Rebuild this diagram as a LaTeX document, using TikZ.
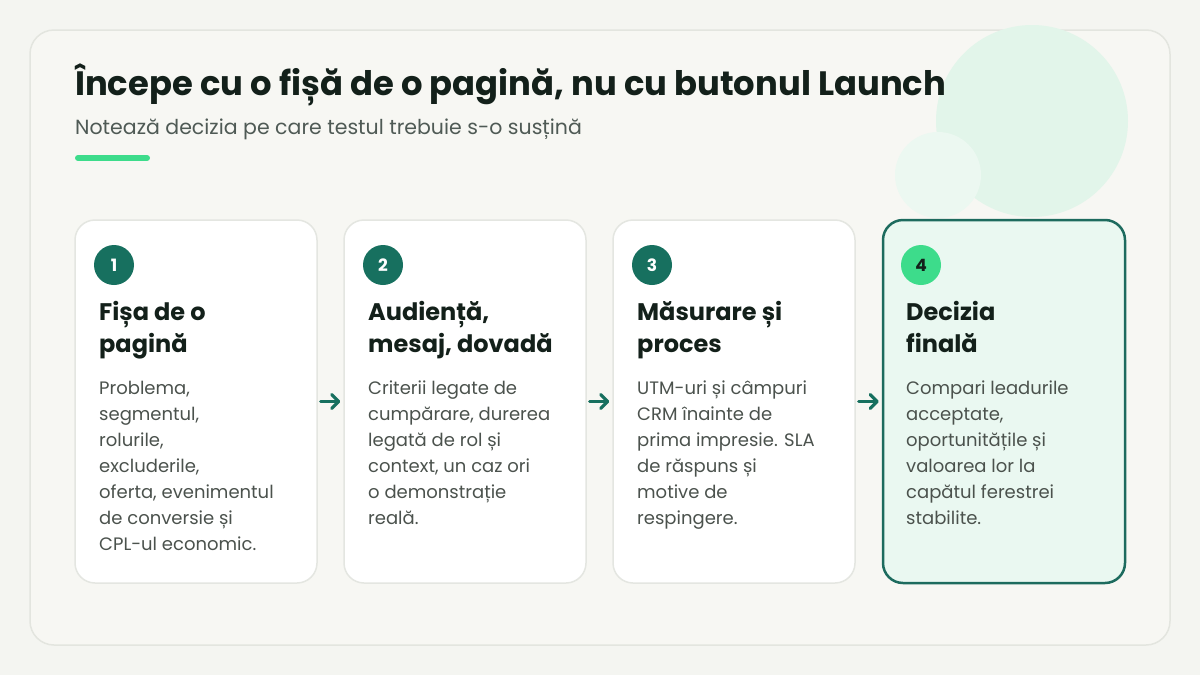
\documentclass[tikz,border=0pt]{standalone}
\usepackage{fontspec}
\setmainfont{Poppins}
\usetikzlibrary{arrows.meta}

\definecolor{pagebg}{HTML}{F4F5F1}
\definecolor{panelbg}{HTML}{F7F7F3}
\definecolor{panelline}{HTML}{E3E5DF}
\definecolor{cardline}{HTML}{E4E6E1}
\definecolor{blobbig}{HTML}{E2F5EA}
\definecolor{blobsmall}{HTML}{ECF8F1}
\definecolor{teal}{HTML}{17705F}
\definecolor{darkteal}{HTML}{1D6B5E}
\definecolor{mint}{HTML}{3DDC8B}
\definecolor{lastfill}{HTML}{EAF8F1}
\definecolor{titleink}{HTML}{13201A}
\definecolor{subink}{HTML}{4F5A55}
\definecolor{bodyink}{HTML}{4B524D}

\tikzset{
  card/.style={draw=cardline, line width=1.5pt, fill=white, rounded corners=20pt,
    minimum width=242pt, minimum height=363pt},
  lastcard/.style={card, draw=darkteal, line width=2.5pt, fill=lastfill},
  badge/.style={circle, fill=teal, text=white, minimum size=40pt, inner sep=0pt,
    font=\fontsize{17}{17}\selectfont\bfseries},
  lastbadge/.style={badge, fill=mint, text=titleink},
  % \strut keeps the first baseline 0.7 baselineskip below the top
  head/.style={anchor=north west, inner sep=0pt, align=left, text=titleink,
    font=\fontsize{24}{32}\selectfont\bfseries, execute at begin node=\strut},
  body/.style={anchor=north west, inner sep=0pt, align=left, text=bodyink,
    font=\fontsize{18}{26}\selectfont, execute at begin node=\strut},
  flow/.style={draw=teal, line width=3.2pt, line cap=round,
    -{Straight Barb[length=7pt, width=14pt, line cap=round, line join=round]},
    shorten <=3pt, shorten >=3pt}
}

\begin{document}
\begin{tikzpicture}[x=1pt,y=-1pt]
\useasboundingbox[fill=pagebg] (0,0) rectangle (1200,675);

% panel and background blobs
\draw[draw=panelline, line width=1.5pt, fill=panelbg, rounded corners=24pt] (30,30) rectangle (1170,645);
\fill[blobbig] (1032,121) circle (96);
\fill[blobsmall] (938,175) circle (43);

% title block
\node[anchor=base west, inner sep=0pt, text=titleink, font=\fontsize{33.8}{34}\selectfont\bfseries]
  (title) at (75,95) {Începe cu o fișă de o pagină, nu cu butonul Launch};
\node[anchor=base west, inner sep=0pt, text=subink, font=\fontsize{20.5}{21}\selectfont]
  (subtitle) at (75,134) {Notează decizia pe care testul trebuie s-o susțină};
\draw[mint, line width=6pt, line cap=round] (78,158) -- (147,158);

% cards (top of text = baseline - 0.7 baselineskip)
\foreach \i/\x/\h/\b in {
  1/75/{Fișa de o\\pagină}/{Problema,\\segmentul,\\rolurile,\\excluderile,\\oferta, evenimentul\\de conversie și\\CPL-ul economic.},
  2/344/{Audiență,\\mesaj, dovadă}/{Criterii legate de\\cumpărare, durerea\\legată de rol și\\context, un caz ori\\o demonstrație\\reală.},
  3/613/{Măsurare și\\proces}/{UTM-uri și câmpuri\\CRM înainte de\\prima impresie. SLA\\de răspuns și\\motive de\\respingere.}} {
  \node[card] (card\i) at (\x+121,401.5) {};
  \node[badge] (num\i) at (\x+39,265) {\i};
  \node[head] (head\i) at (\x+24,323-22.4) {\h};
  \node[body] (body\i) at (\x+24,399-18.2) {\b};
}
\node[lastcard] (card4) at (882+122,401.5) {};
\node[lastbadge] (num4) at (882+39,265) {4};
\node[head] (head4) at (882+24,323-22.4) {Decizia\\finală};
\node[body] (body4) at (882+24,399-18.2) {Compari leadurile\\acceptate,\\oportunitățile și\\valoarea lor la\\capătul ferestrei\\stabilite.};

% connectors
\draw[flow] (card1) -- (card2);
\draw[flow] (card2) -- (card3);
\draw[flow] (card3) -- (card4);
\end{tikzpicture}
\end{document}
